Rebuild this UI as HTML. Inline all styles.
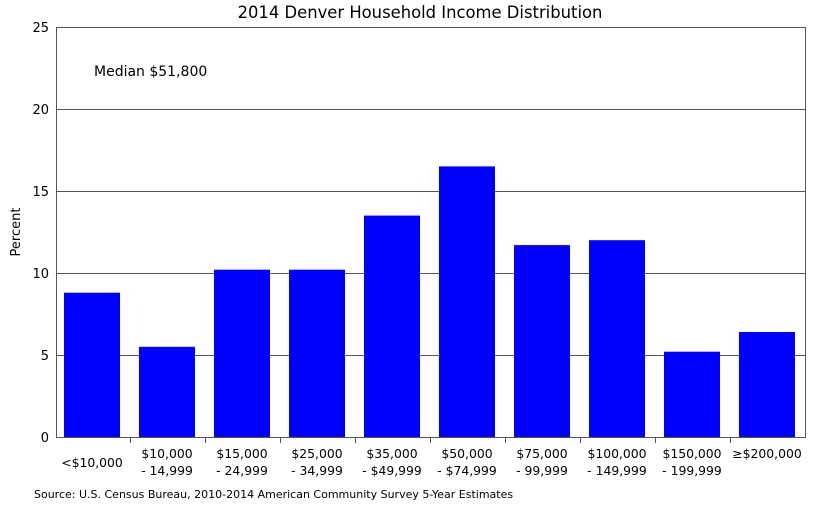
<!DOCTYPE html>
<html><head><style>body{margin:0;background:#fff}svg{display:block}text{font-family:"DejaVu Sans","Liberation Sans",sans-serif;fill:#000}</style></head>
<body>
<svg width="819" height="512" xmlns="http://www.w3.org/2000/svg">
<text x="420" y="18" font-size="16.4" text-anchor="middle">2014 Denver Household Income Distribution</text>
<g stroke="#555" stroke-width="1">
<line x1="56" y1="27.5" x2="806" y2="27.5"/>
<line x1="56" y1="109.5" x2="806" y2="109.5"/>
<line x1="56" y1="191.5" x2="806" y2="191.5"/>
<line x1="56" y1="273.5" x2="806" y2="273.5"/>
<line x1="56" y1="355.5" x2="806" y2="355.5"/>
</g>
<g fill="#0000ff">
<rect x="64" y="292.7" width="56" height="144.3"/>
<rect x="139" y="346.8" width="56" height="90.2"/>
<rect x="214" y="269.7" width="56" height="167.3"/>
<rect x="289" y="269.7" width="56" height="167.3"/>
<rect x="364" y="215.6" width="56" height="221.4"/>
<rect x="439" y="166.4" width="56" height="270.6"/>
<rect x="514" y="245.1" width="56" height="191.9"/>
<rect x="589" y="240.2" width="56" height="196.8"/>
<rect x="664" y="351.7" width="56" height="85.3"/>
<rect x="739" y="332.0" width="56" height="105.0"/>
</g>
<g stroke="#555" stroke-width="1" fill="none">
<line x1="56.5" y1="27" x2="56.5" y2="437"/>
<line x1="805.5" y1="27" x2="805.5" y2="437"/>
<line x1="56" y1="437.5" x2="806" y2="437.5"/>
<path d="M130.5 437v6M205.5 437v6M280.5 437v6M355.5 437v6M430.5 437v6M505.5 437v6M580.5 437v6M655.5 437v6M730.5 437v6"/>
</g>
<g font-size="13" text-anchor="end">
<text x="49" y="32">25</text><text x="49" y="114">20</text><text x="49" y="196">15</text>
<text x="49" y="278">10</text><text x="49" y="360">5</text><text x="49" y="442">0</text>
</g>
<text transform="translate(20,232) rotate(-90)" font-size="13" text-anchor="middle">Percent</text>
<text x="94" y="76" font-size="14">Median $51,800</text>
<g font-size="12.4" text-anchor="middle">
<text x="92" y="467">&lt;$10,000</text>
<text x="167" y="458">$10,000</text><text x="167" y="475">- 14,999</text>
<text x="242" y="458">$15,000</text><text x="242" y="475">- 24,999</text>
<text x="317" y="458">$25,000</text><text x="317" y="475">- 34,999</text>
<text x="392" y="458">$35,000</text><text x="392" y="475">- $49,999</text>
<text x="467" y="458">$50,000</text><text x="467" y="475">- $74,999</text>
<text x="542" y="458">$75,000</text><text x="542" y="475">- 99,999</text>
<text x="617" y="458">$100,000</text><text x="617" y="475">- 149,999</text>
<text x="692" y="458">$150,000</text><text x="692" y="475">- 199,999</text>
<text x="767" y="458">≥$200,000</text>
</g>
<text x="34" y="498" font-size="11">Source: U.S. Census Bureau, 2010-2014 American Community Survey 5-Year Estimates</text>
</svg>
</body></html>
